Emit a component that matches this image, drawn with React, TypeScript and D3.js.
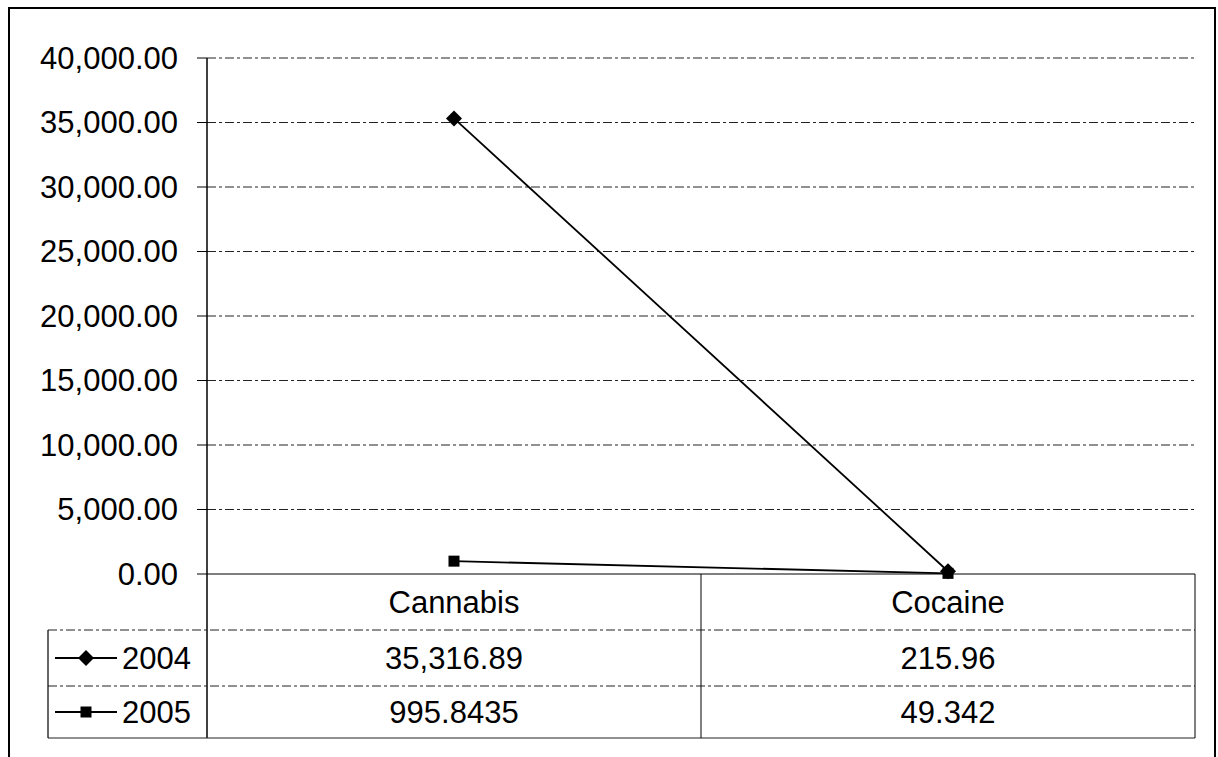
import React from "react";
import * as d3 from "d3";

const categories = ["Cannabis", "Cocaine"];
const seriesNames = ["2004", "2005"];
const values2004 = [35316.89, 215.96];
const values2005 = [995.8435, 49.342];
const tableText2004 = ["35,316.89", "215.96"];
const tableText2005 = ["995.8435", "49.342"];
const yTicks = [0, 5000, 10000, 15000, 20000, 25000, 30000, 35000, 40000];

const W = 1218;
const H = 757;
const plotLeft = 207;
const plotRight = 1195;
const plotTop = 58;
const plotBottom = 574;
const rowH = [56, 56, 52];
const legendLeft = 48;
const FONT = "'Liberation Sans', Arial, sans-serif";
const FS = 31;

export default function App() {
  const x = d3.scaleBand().domain(categories).range([plotLeft, plotRight]).padding(0);
  const y = d3.scaleLinear().domain([0, 40000]).range([plotBottom, plotTop]);
  const fmt = d3.format(",.2f");
  const line = d3
    .line<number>()
    .x((_, i) => (x(categories[i]) as number) + x.bandwidth() / 2)
    .y((d) => y(d));

  const row1 = plotBottom + rowH[0];
  const row2 = row1 + rowH[1];
  const row3 = row2 + rowH[2];
  const rowsY = [row1, row2, row3];

  const diamond = (cx: number, cy: number, r: number) =>
    `M${cx},${cy - r}L${cx + r},${cy}L${cx},${cy + r}L${cx - r},${cy}Z`;

  const series = [
    { name: seriesNames[0], values: values2004, text: tableText2004, marker: "diamond" },
    { name: seriesNames[1], values: values2005, text: tableText2005, marker: "square" },
  ];

  const gridDash = "9 3 3 3";

  return (
    <svg
      width={W}
      height={H}
      style={{ position: "absolute", left: 0, top: 0, background: "#fff" }}
      fontFamily={FONT}
    >
      <rect x={0} y={0} width={W} height={H} fill="#fff" />
      <rect x={9} y={8} width={1206} height={780} fill="none" stroke="#000" strokeWidth={2} />

      {yTicks.map((t) => (
        <g key={t}>
          {t > 0 && (
            <line
              x1={plotLeft}
              x2={plotRight}
              y1={y(t)}
              y2={y(t)}
              stroke="#222"
              strokeWidth={1}
              strokeDasharray={gridDash}
            />
          )}
          <line x1={plotLeft - 10} x2={plotLeft} y1={y(t)} y2={y(t)} stroke="#000" strokeWidth={1} />
          <text
            x={178}
            y={y(t)}
            textAnchor="end"
            dominantBaseline="central"
            fontSize={FS}
            fill="#000"
          >
            {fmt(t)}
          </text>
        </g>
      ))}

      <line x1={plotLeft} x2={plotLeft} y1={plotTop} y2={row3} stroke="#000" strokeWidth={1.5} />
      <line x1={plotLeft} x2={plotRight} y1={plotBottom} y2={plotBottom} stroke="#000" strokeWidth={1.2} />

      {rowsY.map((ry, i) => (
        <line
          key={i}
          x1={legendLeft}
          x2={plotRight}
          y1={ry}
          y2={ry}
          stroke="#222"
          strokeWidth={1.2}
          strokeDasharray={i === 2 ? undefined : gridDash}
        />
      ))}
      <line x1={legendLeft} x2={legendLeft} y1={row1} y2={row3} stroke="#000" strokeWidth={1.2} />
      <line
        x1={x(categories[1]) as number}
        x2={x(categories[1]) as number}
        y1={plotBottom}
        y2={row3}
        stroke="#000"
        strokeWidth={1}
      />
      <line x1={plotRight} x2={plotRight} y1={plotBottom} y2={row3} stroke="#000" strokeWidth={1} />

      {categories.map((c) => (
        <text
          key={c}
          x={(x(c) as number) + x.bandwidth() / 2}
          y={(plotBottom + row1) / 2}
          textAnchor="middle"
          dominantBaseline="central"
          fontSize={FS}
        >
          {c}
        </text>
      ))}
      {series.map((s, si) => {
        const top = rowsY[si];
        const bot = rowsY[si + 1];
        const cy = (top + bot) / 2;
        return (
          <g key={s.name}>
            {s.text.map((t, i) => (
              <text
                key={i}
                x={(x(categories[i]) as number) + x.bandwidth() / 2}
                y={cy}
                textAnchor="middle"
                dominantBaseline="central"
                fontSize={FS}
              >
                {t}
              </text>
            ))}
            <line x1={55} x2={117} y1={cy} y2={cy} stroke="#000" strokeWidth={1.8} />
            {s.marker === "diamond" ? (
              <path d={diamond(86, cy, 8)} fill="#000" />
            ) : (
              <rect x={80.5} y={cy - 5.5} width={11} height={11} fill="#000" />
            )}
            <text x={122} y={cy} dominantBaseline="central" fontSize={FS}>
              {s.name}
            </text>
          </g>
        );
      })}

      {series.map((s) => (
        <g key={s.name}>
          <path d={line(s.values) || ""} fill="none" stroke="#000" strokeWidth={1.8} />
          {s.values.map((v, i) => {
            const cx = (x(categories[i]) as number) + x.bandwidth() / 2;
            const cy = y(v);
            return s.marker === "diamond" ? (
              <path key={i} d={diamond(cx, cy, 8)} fill="#000" />
            ) : (
              <rect key={i} x={cx - 5.5} y={cy - 5.5} width={11} height={11} fill="#000" />
            );
          })}
        </g>
      ))}
    </svg>
  );
}
